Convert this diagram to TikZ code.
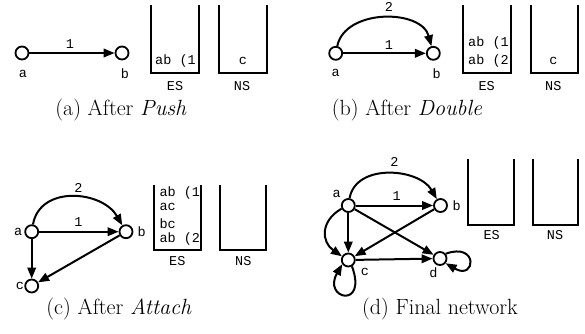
\documentclass[tikz,border=0pt]{standalone}
\usepackage{fontspec}
\setmonofont{Liberation Mono}
\usetikzlibrary{arrows.meta}
\tikzset{
  vtx/.style={circle,draw,line width=1.8pt,minimum size=13pt,inner sep=0pt},
  edg/.style={line width=2pt,-{Triangle[length=11pt,width=8.5pt]}},
  stk/.style={line width=2.3pt},
  tt/.style={font=\fontsize{13.5}{15}\ttfamily,inner sep=0pt},
  capt/.style={font=\fontsize{22}{26}\selectfont,anchor=base,inner sep=0pt}
}
\begin{document}
\begin{tikzpicture}[x=1pt,y=1pt]
\useasboundingbox (0,0) rectangle (585,333);
% ---------- (a) ----------
\node[vtx] (a1) at (22,280) {};
\node[vtx] (b1) at (122,280) {};
\node[tt] (la1) at (23,259) {a};
\node[tt] (lb1) at (125,259) {b};
\draw[edg] (a1) -- (b1);
\node[tt] (w1a) at (70,289) {1};
\begin{scope}
  \clip (151,250) rectangle (199.3,330);
  \node[tt,anchor=west] (s1a) at (155,272) {ab (1)};
\end{scope}
\draw[stk] (151,328) |- (199.3,260.3) -- (199.3,328);
\draw[stk] (219,328) |- (267,260.3) -- (267,328);
\node[tt] (n1c) at (243,272) {c};
\node[tt] (es1) at (175,247) {ES};
\node[tt] (ns1) at (242,247) {NS};
\node[capt] (cap1) at (121,218) {(a) After \textit{Push}};
% ---------- (b) ----------
\node[vtx] (a2) at (335.7,279.7) {};
\node[vtx] (b2) at (433.3,279.7) {};
\node[tt] (la2) at (335.7,259.7) {a};
\node[tt] (lb2) at (436.7,259.7) {b};
\draw[edg] (a2) -- (b2);
\draw[edg] (a2) to[out=78,in=105,looseness=1.05] (b2);
\node[tt] (w2a) at (389,288) {1};
\node[tt] (w2b) at (389,325.7) {2};
\begin{scope}
  \clip (463.3,250) rectangle (511,330);
  \node[tt,anchor=west] (s2a) at (468,289.7) {ab (1)};
  \node[tt,anchor=west] (s2b) at (468,272) {ab (2)};
\end{scope}
\draw[stk] (463.3,328) |- (511,260.3) -- (511,328);
\draw[stk] (530.7,328) |- (578.3,260.3) -- (578.3,328);
\node[tt] (n2c) at (553.3,272) {c};
\node[tt] (es2) at (486.7,247) {ES};
\node[tt] (ns2) at (553.3,247) {NS};
\node[capt] (cap2) at (407,218) {(b) After \textit{Double}};
% ---------- (c) ----------
\node[vtx] (a3) at (31.7,101.3) {};
\node[vtx] (b3) at (126,101.3) {};
\node[vtx] (c3) at (31.7,47) {};
\node[tt] (la3) at (18.3,101.3) {a};
\node[tt] (lb3) at (141.7,101.3) {b};
\node[tt] (lc3) at (20,47) {c};
\draw[edg] (a3) -- (b3);
\draw[edg] (a3) to[out=80,in=120,looseness=1.15] (b3);
\draw[edg] (a3) -- (c3);
\draw[edg] (b3) -- (c3);
\node[tt] (w3a) at (78.3,111.3) {1};
\node[tt] (w3b) at (78.3,144.7) {2};
\begin{scope}
  \clip (154.3,80) rectangle (201,150);
  \node[tt,anchor=west] (s3a) at (159.3,139.7) {ab (1)};
  \node[tt,anchor=west] (s3b) at (159.3,126.3) {ac};
  \node[tt,anchor=west] (s3c) at (159.3,109.7) {bc};
  \node[tt,anchor=west] (s3d) at (159.3,93.7) {ab (2)};
\end{scope}
\draw[stk] (154.3,148) |- (201,83) -- (201,148);
\draw[stk] (220,148) |- (266,83) -- (266,148);
\node[tt] (es3) at (177.3,72) {ES};
\node[tt] (ns3) at (243.3,72) {NS};
\node[capt] (cap3) at (119,19) {(c) After \textit{Attach}};
% ---------- (d) ----------
\node[vtx] (a4) at (348.3,127.5) {};
\node[vtx] (b4) at (440.5,127.5) {};
\node[vtx] (c4) at (348.3,73) {};
\node[vtx] (d4) at (440,74.5) {};
\node[tt] (la4) at (336.7,139) {a};
\node[tt] (lb4) at (456.7,127.5) {b};
\node[tt] (lc4) at (365,61.3) {c};
\node[tt] (ld4) at (433.3,60.3) {d};
\draw[edg] (a4) -- (b4);
\draw[edg] (a4) to[out=80,in=120,looseness=1.05] (b4);
\draw[edg] (a4) -- (c4);
\draw[edg] (a4) -- (d4);
\draw[edg] (b4) -- (c4);
\draw[edg] (c4) -- (d4);
\draw[edg] (a4.205) .. controls +(210:25) and +(145:25) .. (c4.150);
\draw[edg] (c4.300) .. controls +(290:46) and +(240:40) .. (c4.215);
\draw[edg] (d4.40) .. controls +(20:35) and +(-30:35) .. (d4.-40);
\node[tt] (w4a) at (396.7,137) {1};
\node[tt] (w4b) at (394.3,170.7) {2};
\draw[stk] (468.3,174) |- (514,108) -- (514,174);
\draw[stk] (532.7,174) |- (578.3,108) -- (578.3,174);
\node[tt] (es4) at (491.7,98) {ES};
\node[tt] (ns4) at (555,98) {NS};
\node[capt] (cap4) at (440,19) {(d) Final network};
\end{tikzpicture}
\end{document}
